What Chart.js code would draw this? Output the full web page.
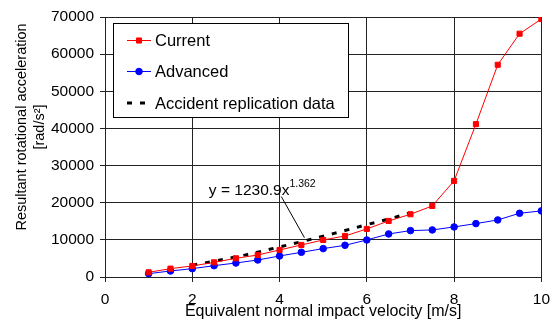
<!DOCTYPE html>
<html>
<head>
<meta charset="utf-8">
<script src="https://cdn.jsdelivr.net/npm/chart.js@4.4.0/dist/chart.umd.min.js"></script>
<style>
  html, body { margin: 0; padding: 0; background: #fff; }
  #wrap { width: 558px; height: 326px; }
</style>
</head>
<body>
<div id="wrap"><canvas id="chart"></canvas></div>
<script>
const velocity = [1, 1.5, 2, 2.5, 3, 3.5, 4, 4.5, 5, 5.5, 6, 6.5, 7, 7.5, 8, 8.5, 9, 9.5, 10];
const current = [1260, 2250, 2970, 3950, 5030, 5930, 7280, 8630, 9970, 11050, 12940, 15090, 16890, 19140, 25880, 41150, 57140, 65500, 69450];
const advanced = [900, 1620, 2250, 3050, 3770, 4580, 5660, 6650, 7640, 8540, 9970, 11590, 12490, 12670, 13480, 14380, 15360, 17160, 17790];
const accidentX = [2, 2.5, 3, 3.5, 4, 4.5, 5, 5.5, 6, 6.5, 7];
const accidentY = [3200, 4250, 5400, 6700, 8100, 9500, 11000, 12500, 14100, 15600, 17300];
const seriesNames = ['Current', 'Advanced', 'Accident replication data'];
const xTickValues = [0, 2, 4, 6, 8, 10];
const yTickValues = [0, 10000, 20000, 30000, 40000, 50000, 60000, 70000];
const fitText = 'y = 1230.9x';
const fitExponent = '1.362';
const xTitle = 'Equivalent normal impact velocity [m/s]';
const yTitle = ['Resultant rotational acceleration', '[rad/s\u00B2]'];

const FONT = "'Liberation Sans', Arial, sans-serif";
const toPoints = (xs, ys) => xs.map((x, i) => ({ x: x, y: ys[i] }));

const overlay = {
  id: 'overlay',
  afterDraw(chart) {
    const ctx = chart.ctx;
    const xs = chart.scales.x;
    const ys = chart.scales.y;
    ctx.save();

    // y axis title (two lines, rotated)
    ctx.fillStyle = '#000';
    ctx.font = '14.5px ' + FONT;
    ctx.textAlign = 'center';
    ctx.textBaseline = 'middle';
    [22, 40].forEach((px, i) => {
      ctx.save();
      ctx.translate(px, 127);
      ctx.rotate(-Math.PI / 2);
      ctx.fillText(yTitle[i], 0, 0);
      ctx.restore();
    });

    // trend line label + leader
    ctx.strokeStyle = '#000';
    ctx.lineWidth = 1;
    ctx.beginPath();
    ctx.moveTo(xs.getPixelForValue(4.04), ys.getPixelForValue(21660));
    ctx.lineTo(xs.getPixelForValue(4.57), ys.getPixelForValue(10600));
    ctx.stroke();
    ctx.textAlign = 'left';
    ctx.textBaseline = 'alphabetic';
    ctx.font = '15.5px ' + FONT;
    const tx = xs.getPixelForValue(2.38);
    const ty = ys.getPixelForValue(22100);
    ctx.fillText(fitText, tx, ty);
    const w = ctx.measureText(fitText).width;
    ctx.font = '10.5px ' + FONT;
    ctx.fillText(fitExponent, tx + w, ty - 8);

    // legend box
    const bx = 113, by = 23, bw = 235, bh = 94;
    ctx.fillStyle = '#fff';
    ctx.fillRect(bx, by, bw, bh);
    ctx.strokeStyle = '#000';
    ctx.strokeRect(bx + 0.5, by + 0.5, bw, bh);
    const rows = [40.5, 71.5, 103];
    chart.data.datasets.forEach((ds, i) => {
      const y = rows[i];
      ctx.save();
      ctx.strokeStyle = ds.borderColor;
      ctx.lineWidth = ds.borderWidth;
      ctx.setLineDash(ds.borderDash || []);
      ctx.beginPath();
      ctx.moveTo(127, y);
      ctx.lineTo(151, y);
      ctx.stroke();
      ctx.restore();
      if (ds.pointRadius > 0) {
        ctx.fillStyle = ds.backgroundColor;
        ctx.strokeStyle = ds.borderColor;
        Chart.helpers.drawPoint(ctx, { pointStyle: ds.pointStyle, radius: ds.pointRadius, borderWidth: 1 }, 139, y);
      }
      ctx.fillStyle = '#000';
      ctx.font = '16.5px ' + FONT;
      ctx.textBaseline = 'middle';
      ctx.fillText(ds.label, 155, y + 1);
    });
    ctx.restore();
  }
};

new Chart(document.getElementById('chart').getContext('2d'), {
  type: 'line',
  data: {
    datasets: [
      {
        label: seriesNames[0],
        data: toPoints(velocity, current),
        borderColor: '#ff0000',
        backgroundColor: '#ff0000',
        borderWidth: 1,
        pointStyle: 'rect',
        pointRadius: 3.6,
        pointBorderWidth: 1
      },
      {
        label: seriesNames[1],
        data: toPoints(velocity, advanced),
        borderColor: '#0000ff',
        backgroundColor: '#0000ff',
        borderWidth: 1,
        pointStyle: 'circle',
        pointRadius: 3.3,
        pointBorderWidth: 1
      },
      {
        label: seriesNames[2],
        data: toPoints(accidentX, accidentY),
        borderColor: '#000000',
        backgroundColor: '#000000',
        borderWidth: 3,
        borderDash: [5, 8],
        borderCapStyle: 'butt',
        pointRadius: 0,
        tension: 0.4
      }
    ]
  },
  options: {
    responsive: true,
    maintainAspectRatio: false,
    animation: false,
    events: [],
    layout: { padding: { top: 17, right: 15, left: 0, bottom: 0 } },
    scales: {
      x: {
        type: 'linear',
        min: 0,
        max: 10,
        afterBuildTicks: (scale) => { scale.ticks = xTickValues.map(v => ({ value: v })); },
        afterFit: (scale) => { scale.height = 49; },
        grid: { color: '#222', lineWidth: 1, tickLength: 5, drawTicks: true },
        border: { color: '#222' },
        ticks: { color: '#000', font: { family: FONT, size: 15.5 }, padding: 8, maxRotation: 0 },
        title: {
          display: true,
          text: xTitle,
          color: '#000',
          font: { family: FONT, size: 16 },
          padding: { top: 0, bottom: 5 }
        }
      },
      y: {
        type: 'linear',
        min: 0,
        max: 70000,
        afterBuildTicks: (scale) => { scale.ticks = yTickValues.map(v => ({ value: v })); },
        afterFit: (scale) => { scale.width = 105; },
        grid: { color: '#222', lineWidth: 1, tickLength: 5, drawTicks: true },
        border: { color: '#222' },
        ticks: {
          color: '#000',
          font: { family: FONT, size: 15.5 },
          padding: 6,
          callback: (value) => String(value)
        }
      }
    },
    plugins: {
      legend: { display: false },
      tooltip: { enabled: false }
    }
  },
  plugins: [overlay]
});
</script>
</body>
</html>
